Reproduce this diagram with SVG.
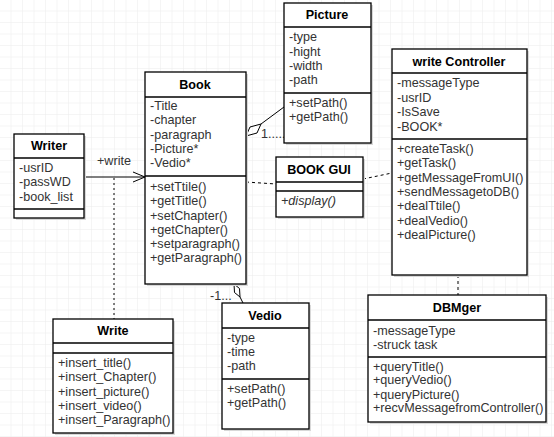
<svg xmlns="http://www.w3.org/2000/svg" width="554" height="437" viewBox="0 0 554 437">
<defs>
<pattern id="grid" width="11.5" height="11.5" patternUnits="userSpaceOnUse">
<path d="M11.5 0V11.5H0" fill="none" stroke="#ececec" stroke-width="1"/>
</pattern>
<marker id="open" markerWidth="14" markerHeight="12" refX="13" refY="6" orient="auto" markerUnits="userSpaceOnUse">
<path d="M1 1L13 6L1 11" fill="none" stroke="#000" stroke-width="1"/>
</marker>
</defs>
<style>
.box{fill:#fff;stroke:#000;stroke-width:1.3}
.sep{stroke:#000;stroke-width:1.3}
.t{font-family:"Liberation Sans",Arial,sans-serif;font-size:12.6px;fill:#333}
.h{font-family:"Liberation Sans",Arial,sans-serif;font-size:12.6px;font-weight:bold;fill:#000;text-anchor:middle}
.c{stroke:#000;stroke-width:1;fill:none}
.d{stroke:#000;stroke-width:1;fill:none;stroke-dasharray:3,3}
.shadow{fill:#d8d8d8}
</style>
<rect width="554" height="437" fill="#fff"/>
<rect width="554" height="437" fill="url(#grid)"/>

<g id="connectors">
<line class="c" x1="84" y1="177" x2="145" y2="177" marker-end="url(#open)"/>
<text class="t" x="97" y="165">+write</text>
<line class="c" x1="114" y1="178" x2="114" y2="319" stroke-dasharray="2,3"/>
<line class="d" x1="246" y1="182" x2="276" y2="184"/>
<line class="d" x1="363" y1="179" x2="392" y2="173"/>
<line class="d" x1="458" y1="275" x2="458" y2="295"/>
<line class="c" x1="261" y1="124" x2="284" y2="107"/>
<path class="c" d="M246 136L250 127L261 124L257 133Z" fill="#fff"/>
<text class="t" x="261" y="138" font-size="11.5">1.....*</text>
<line class="c" x1="240" y1="297" x2="243" y2="303"/>
<path class="c" d="M234 284L239.5 288.5L240 297L234.5 292.5Z" fill="#fff"/>
<text class="t" x="210" y="300" font-size="11.5">-1...</text>
</g>

<g id="writer">
<rect class="shadow" x="16" y="136" width="70" height="84"/>
<rect class="box" x="14" y="134" width="70" height="84"/>
<line class="sep" x1="14" y1="158" x2="84" y2="158"/>
<line class="sep" x1="14" y1="209" x2="84" y2="209"/>
<text class="h" x="49" y="150">Writer</text>
<text class="t" x="19" y="172">-usrID</text>
<text class="t" x="19" y="186">-passWD</text>
<text class="t" x="19" y="201">-book_list</text>
</g>

<g id="book">
<rect class="shadow" x="147" y="74" width="101" height="212"/>
<rect class="box" x="145" y="72" width="101" height="212"/>
<line class="sep" x1="145" y1="97" x2="246" y2="97"/>
<line class="sep" x1="145" y1="176" x2="246" y2="176"/>
<text class="h" x="195" y="89">Book</text>
<text class="t" x="150" y="110">-Title</text>
<text class="t" x="150" y="124">-chapter</text>
<text class="t" x="150" y="139">-paragraph</text>
<text class="t" x="150" y="153">-Picture*</text>
<text class="t" x="150" y="167">-Vedio*</text>
<text class="t" x="150" y="191">+setTtile()</text>
<text class="t" x="150" y="205">+getTitle()</text>
<text class="t" x="150" y="220">+setChapter()</text>
<text class="t" x="150" y="234">+getChapter()</text>
<text class="t" x="150" y="248">+setparagraph()</text>
<text class="t" x="150" y="262">+getParagraph()</text>
</g>

<g id="picture">
<rect class="shadow" x="286" y="5" width="87" height="140"/>
<rect class="box" x="284" y="3" width="87" height="140"/>
<line class="sep" x1="284" y1="27" x2="371" y2="27"/>
<line class="sep" x1="284" y1="93" x2="371" y2="93"/>
<text class="h" x="327" y="19">Picture</text>
<text class="t" x="289" y="41">-type</text>
<text class="t" x="289" y="56">-hight</text>
<text class="t" x="289" y="70">-width</text>
<text class="t" x="289" y="84">-path</text>
<text class="t" x="289" y="107">+setPath()</text>
<text class="t" x="289" y="121">+getPath()</text>
</g>

<g id="bookgui">
<rect class="shadow" x="278" y="159" width="87" height="60"/>
<rect class="box" x="276" y="157" width="87" height="60"/>
<line class="sep" x1="276" y1="182" x2="363" y2="182"/>
<line class="sep" x1="276" y1="191" x2="363" y2="191"/>
<text class="h" x="319" y="174">BOOK GUI</text>
<text class="t" x="281" y="205" font-style="italic">+display()</text>
</g>

<g id="writecontroller">
<rect class="shadow" x="394" y="51" width="135" height="226"/>
<rect class="box" x="392" y="49" width="135" height="226"/>
<line class="sep" x1="392" y1="73" x2="527" y2="73"/>
<line class="sep" x1="392" y1="139" x2="527" y2="139"/>
<text class="h" x="459" y="66">write Controller</text>
<text class="t" x="397" y="87">-messageType</text>
<text class="t" x="397" y="102">-usrID</text>
<text class="t" x="397" y="116">-IsSave</text>
<text class="t" x="397" y="131">-BOOK*</text>
<text class="t" x="397" y="153">+createTask()</text>
<text class="t" x="397" y="167">+getTask()</text>
<text class="t" x="397" y="182">+getMessageFromUI()</text>
<text class="t" x="397" y="196">+sendMessagetoDB()</text>
<text class="t" x="397" y="210">+dealTtile()</text>
<text class="t" x="397" y="225">+dealVedio()</text>
<text class="t" x="397" y="239">+dealPicture()</text>
</g>

<g id="dbmger">
<rect class="shadow" x="370" y="297" width="178" height="127"/>
<rect class="box" x="368" y="295" width="178" height="127"/>
<line class="sep" x1="368" y1="320" x2="546" y2="320"/>
<line class="sep" x1="368" y1="357" x2="546" y2="357"/>
<text class="h" x="457" y="312">DBMger</text>
<text class="t" x="373" y="335">-messageType</text>
<text class="t" x="373" y="349">-struck task</text>
<text class="t" x="373" y="371">+queryTitle()</text>
<text class="t" x="373" y="384">+queryVedio()</text>
<text class="t" x="373" y="399">+queryPicture()</text>
<text class="t" x="373" y="412">+recvMessagefromController()</text>
</g>

<g id="write">
<rect class="shadow" x="55" y="321" width="120" height="114"/>
<rect class="box" x="53" y="319" width="120" height="114"/>
<line class="sep" x1="53" y1="343" x2="173" y2="343"/>
<line class="sep" x1="53" y1="353" x2="173" y2="353"/>
<text class="h" x="113" y="335">Write</text>
<text class="t" x="58" y="367">+insert_title()</text>
<text class="t" x="58" y="381">+insert_Chapter()</text>
<text class="t" x="58" y="396">+insert_picture()</text>
<text class="t" x="58" y="410">+insert_video()</text>
<text class="t" x="58" y="424">+insert_Paragraph()</text>
</g>

<g id="vedio">
<rect class="shadow" x="224" y="305" width="87" height="126"/>
<rect class="box" x="222" y="303" width="87" height="126"/>
<line class="sep" x1="222" y1="328" x2="309" y2="328"/>
<line class="sep" x1="222" y1="379" x2="309" y2="379"/>
<text class="h" x="265" y="320">Vedio</text>
<text class="t" x="227" y="342">-type</text>
<text class="t" x="227" y="356">-time</text>
<text class="t" x="227" y="370">-path</text>
<text class="t" x="227" y="393">+setPath()</text>
<text class="t" x="227" y="407">+getPath()</text>
</g>
</svg>
